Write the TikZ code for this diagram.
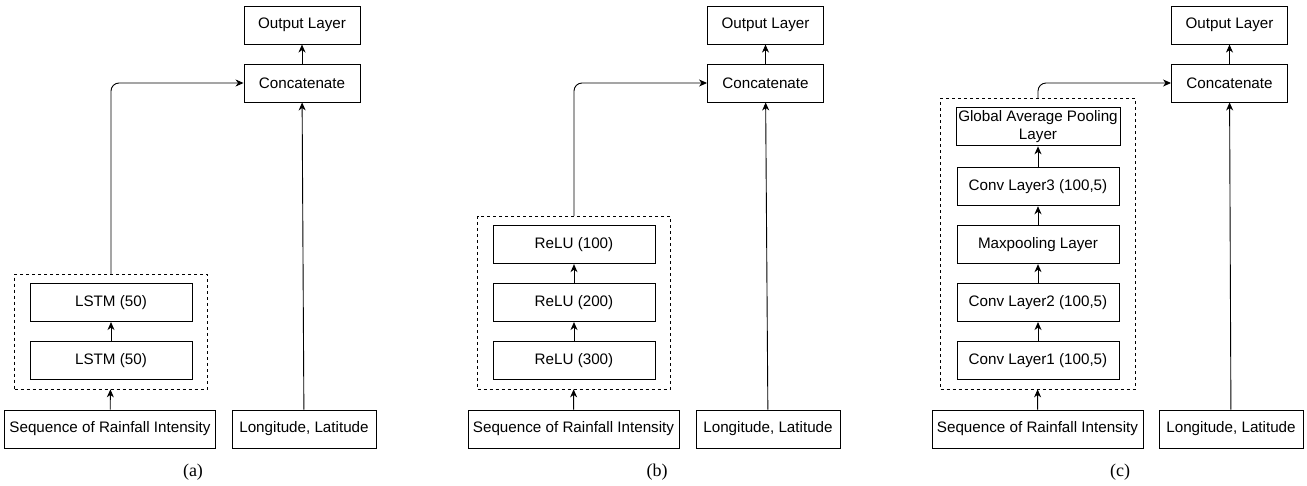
\documentclass[tikz,border=0pt]{standalone}
\usepackage{fontspec}
\setmainfont{Liberation Sans}
\newfontfamily\serifcap{Liberation Serif}
\usetikzlibrary{positioning, arrows.meta, fit}
\tikzset{arco/.style={line width=0.9pt, -{Stealth[length=8pt,width=7pt,inset=2.5pt]}}}
\tikzset{capa/.style={draw,line width=0.9pt,rectangle,minimum width=162pt,minimum height=38pt,inner sep=0pt,align=center,font=\fontsize{15.2}{18}\selectfont}}
\tikzset{grupo/.style={draw,line width=0.8pt,dash pattern=on 3pt off 3pt,inner xsep=15pt,inner ysep=9pt}}
\tikzset{rotulo/.style={font=\serifcap\fontsize{18}{20}\selectfont}}

\begin{document}
\begin{tikzpicture}[x=1pt, y=-1pt]
    \useasboundingbox (0,0) rectangle (1307,485);

    % (a)
    \node[capa, minimum width=211pt](seqa) at (110,429) {Sequence of Rainfall Intensity};
    \node[capa, minimum width=144pt](lona) at (304,429) {Longitude, Latitude};
    \node[capa](lstma1) at (111,360.5) {LSTM (50)};
    \node[capa, above= 19pt of lstma1] (lstma2) {LSTM (50)};
    \node[grupo, fit=(lstma1)(lstma2)] (grpa) {};
    \node[capa, minimum width=116pt](cata) at (302,83) {Concatenate};
    \node[capa, minimum width=116pt, above= 19pt of cata] (outa) {Output Layer};
    \node[rotulo](rota) at (193,472) {(a)};

    \draw[arco] (seqa) -- (grpa);
    \draw[arco] (lstma1) -- (lstma2);
    \draw[arco, rounded corners=8pt] (grpa.north) |- (cata.west);
    \draw[arco] (lona) -- (cata);
    \draw[arco] (cata) -- (outa);

    % (b)
    \node[capa, minimum width=211pt](seqb) at (573.5,429) {Sequence of Rainfall Intensity};
    \node[capa, minimum width=144pt](lonb) at (768,429) {Longitude, Latitude};
    \node[capa](relub1) at (574,360.5) {ReLU (300)};
    \node[capa, above= 19pt of relub1] (relub2) {ReLU (200)};
    \node[capa, above= 19pt of relub2] (relub3) {ReLU (100)};
    \node[grupo, fit=(relub1)(relub3)] (grpb) {};
    \node[capa, minimum width=116pt](catb) at (765.5,83) {Concatenate};
    \node[capa, minimum width=116pt, above= 19pt of catb] (outb) {Output Layer};
    \node[rotulo](rotb) at (657,472) {(b)};

    \draw[arco] (seqb) -- (grpb);
    \draw[arco] (relub1) -- (relub2);
    \draw[arco] (relub2) -- (relub3);
    \draw[arco, rounded corners=8pt] (grpb.north) |- (catb.west);
    \draw[arco] (lonb) -- (catb);
    \draw[arco] (catb) -- (outb);

    % (c)
    \node[capa, minimum width=211pt](seqc) at (1037.5,429) {Sequence of Rainfall Intensity};
    \node[capa, minimum width=144pt](lonc) at (1231,429) {Longitude, Latitude};
    \node[capa](convc1) at (1038,360.5) {Conv Layer1 (100,5)};
    \node[capa, above= 19pt of convc1] (convc2) {Conv Layer2 (100,5)};
    \node[capa, above= 19pt of convc2] (maxc) {Maxpooling Layer};
    \node[capa, above= 19pt of maxc] (convc3) {Conv Layer3 (100,5)};
    \node[capa, minimum width=164pt, above= 21pt of convc3] (gapc) {Global Average Pooling\\Layer};
    \node[grupo, fit=(convc1)(gapc)] (grpc) {};
    \node[capa, minimum width=116pt](catc) at (1229.5,83) {Concatenate};
    \node[capa, minimum width=116pt, above= 19pt of catc] (outc) {Output Layer};
    \node[rotulo](rotc) at (1120,472) {(c)};

    \draw[arco] (seqc) -- (grpc);
    \draw[arco] (convc1) -- (convc2);
    \draw[arco] (convc2) -- (maxc);
    \draw[arco] (maxc) -- (convc3);
    \draw[arco] (convc3) -- (gapc);
    \draw[arco, rounded corners=8pt] (grpc.north) |- (catc.west);
    \draw[arco] (lonc) -- (catc);
    \draw[arco] (catc) -- (outc);
\end{tikzpicture}
\end{document}
